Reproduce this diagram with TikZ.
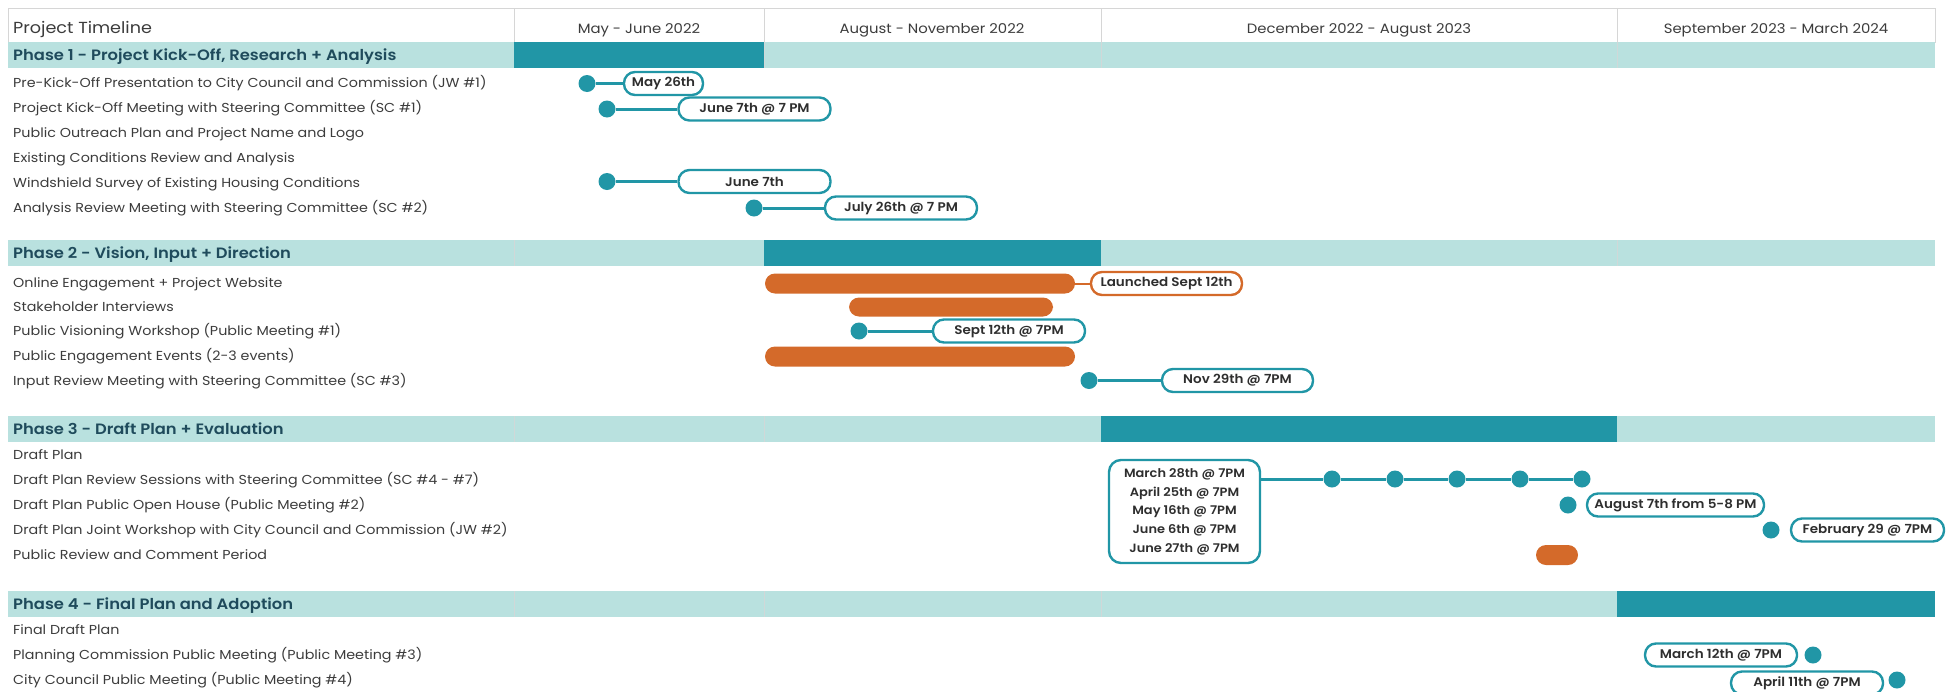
\documentclass[tikz,border=0pt]{standalone}
\usepackage{fontspec}
\setmainfont{Poppins}[FakeStretch=1.1]
\newfontfamily\phasefont{Poppins SemiBold}[FakeStretch=1.09]
\newfontfamily\pillfont{Poppins SemiBold}[FakeStretch=1.08]
\usetikzlibrary{positioning}
\definecolor{tealdark}{HTML}{2196A6}
\definecolor{teallight}{HTML}{B9E1DF}
\definecolor{orangebar}{HTML}{D46A2A}
\definecolor{phaseink}{HTML}{1F4B5C}
\definecolor{itemink}{HTML}{3C3C3C}
\definecolor{gridline}{HTML}{D6D6D6}

\begin{document}
\begin{tikzpicture}[x=1pt,y=-1pt,
    item/.style={anchor=base west,inner sep=0pt,text=itemink,font=\fontsize{13}{13}\selectfont},
    phase/.style={anchor=base west,inner sep=0pt,text=phaseink,font=\phasefont\fontsize{15}{15}\selectfont},
    colhead/.style={anchor=base,inner sep=0pt,text=itemink,font=\fontsize{13.5}{14}\selectfont},
    pill/.style={draw=tealdark,line width=2.4pt,fill=white,rounded corners=11pt,minimum height=23pt,
        minimum width=152pt,inner xsep=0pt,text=black!82,font=\pillfont\fontsize{12.5}{12.5}\selectfont},
    dot/.style={circle,fill=tealdark,minimum size=17pt,inner sep=0pt},
    stem/.style={draw=tealdark,line width=3pt},
    bar/.style={fill=orangebar,rounded corners=10pt,minimum height=20pt,inner sep=0pt}]
    \useasboundingbox (0,0) rectangle (1950,691);
    % header row
    \draw[gridline,line width=0.8pt] (8,8) rectangle (1935,42);
    \draw[gridline,line width=0.8pt] (514,8) -- (514,42) (764,8) -- (764,42) (1101,8) -- (1101,42) (1617,8) -- (1617,42);
    \node[colhead,anchor=base west,font=\fontsize{16}{16}\selectfont] (title) at (13,33) {Project Timeline};
    \node[colhead] (col1) at (639,33) {May - June 2022};
    \node[colhead] (col2) at (932,33) {August - November 2022};
    \node[colhead] (col3) at (1359,33) {December 2022 - August 2023};
    \node[colhead] (col4) at (1776,33) {September 2023 - March 2024};
    % phase bands
    \fill[teallight] (8,42) rectangle (1935,68);
    \fill[teallight] (8,240) rectangle (1935,266);
    \fill[teallight] (8,416) rectangle (1935,442);
    \fill[teallight] (8,591) rectangle (1935,617);
    \fill[tealdark] (514,42) rectangle (764,68);
    \fill[tealdark] (764,240) rectangle (1101,266);
    \fill[tealdark] (1101,416) rectangle (1617,442);
    \fill[tealdark] (1617,591) rectangle (1935,617);
    \draw[gridline!80!teallight,line width=0.8pt] (764,42) -- (764,68) (1101,42) -- (1101,68) (1617,42) -- (1617,68)
        (514,240) -- (514,266) (1617,240) -- (1617,266)
        (514,416) -- (514,442) (764,416) -- (764,442)
        (514,591) -- (514,617) (764,591) -- (764,617) (1101,591) -- (1101,617);

    % phase 1
    \node[phase] (ph1) at (13,60) {Phase 1 - Project Kick-Off, Research + Analysis};
    \node[item] (a1) at (13,87.5) {Pre-Kick-Off Presentation to City Council and Commission (JW \#1)};
    \node[item] (a2) at (13,112.5) {Project Kick-Off Meeting with Steering Committee (SC \#1)};
    \node[item] (a3) at (13,137) {Public Outreach Plan and Project Name and Logo};
    \node[item] (a4) at (13,162) {Existing Conditions Review and Analysis};
    \node[item] (a5) at (13,187) {Windshield Survey of Existing Housing Conditions};
    \node[item] (a6) at (13,212) {Analysis Review Meeting with Steering Committee (SC \#2)};
    \node[dot] (d1) at (587,83.5) {};
    \node[pill,minimum width=79pt] (p1) at (663.5,83.5) {May 26th};
    \node[dot] (d2) at (607,109) {};
    \node[pill] (p2) at (754.5,109) {June 7th @ 7 PM};
    \node[dot] (d3) at (607,181.5) {};
    \node[pill] (p3) at (754.5,181.5) {June 7th};
    \node[dot] (d4) at (754,208) {};
    \node[pill] (p4) at (901,208) {July 26th @ 7 PM};
    \draw[stem] (d1) -- (p1);
    \draw[stem] (d2) -- (p2);
    \draw[stem] (d3) -- (p3);
    \draw[stem] (d4) -- (p4);

    % phase 2
    \node[phase] (ph2) at (13,258) {Phase 2 - Vision, Input + Direction};
    \node[item] (b1) at (13,287.5) {Online Engagement + Project Website};
    \node[item] (b2) at (13,311) {Stakeholder Interviews};
    \node[item] (b3) at (13,335.5) {Public Visioning Workshop (Public Meeting \#1)};
    \node[item] (b4) at (13,360.5) {Public Engagement Events (2-3 events)};
    \node[item] (b5) at (13,385) {Input Review Meeting with Steering Committee (SC \#3)};
    \node[bar,minimum width=310pt] (online) at (920,283.5) {};
    \node[pill,draw=orangebar,minimum width=151pt] (p5) at (1166.5,283.5) {Launched Sept 12th};
    \draw[orangebar,line width=2pt] (online) -- (p5);
    \node[bar,minimum width=204pt,minimum height=19pt] (interviews) at (951,307) {};
    \node[dot] (d6) at (859,331) {};
    \node[pill] (p6) at (1009,331) {Sept 12th @ 7PM};
    \draw[stem] (d6) -- (p6);
    \node[bar,minimum width=310pt] (events) at (920,356.5) {};
    \node[dot] (d7) at (1089,380.5) {};
    \node[pill,minimum width=151pt] (p7) at (1237.5,380.5) {Nov 29th @ 7PM};
    \draw[stem] (d7) -- (p7);

    % phase 3
    \node[phase] (ph3) at (13,434) {Phase 3 - Draft Plan + Evaluation};
    \node[item] (c1) at (13,459.5) {Draft Plan};
    \node[item] (c2) at (13,484) {Draft Plan Review Sessions with Steering Committee (SC \#4 - \#7)};
    \node[item] (c3) at (13,509.5) {Draft Plan Public Open House (Public Meeting \#2)};
    \node[item] (c4) at (13,534) {Draft Plan Joint Workshop with City Council and Commission (JW \#2)};
    \node[item] (c5) at (13,559) {Public Review and Comment Period};
    \node[pill,minimum width=151pt,minimum height=103pt,rounded corners=12pt,align=center,
        font=\pillfont\fontsize{12}{18.7}\selectfont] (sessions) at (1184.5,511.5)
        {March 28th @ 7PM\\April 25th @ 7PM\\May 16th @ 7PM\\June 6th @ 7PM\\June 27th @ 7PM};
    \node[dot] (s1) at (1332,479) {};
    \node[dot] (s2) at (1395,479) {};
    \node[dot] (s3) at (1457,479) {};
    \node[dot] (s4) at (1520,479) {};
    \node[dot] (s5) at (1582,479) {};
    \draw[stem] (sessions.east |- s1) -- (s1) -- (s2) -- (s3) -- (s4) -- (s5);
    \node[dot] (d8) at (1568,505) {};
    \node[pill,minimum width=177pt] (p8) at (1675.5,505) {August 7th from 5-8 PM};
    \node[dot] (d9) at (1771,530) {};
    \node[pill,minimum width=153pt] (p9) at (1867.5,530) {February 29 @ 7PM};
    \node[bar,minimum width=42pt] (review) at (1557,555) {};

    % phase 4
    \node[phase] (ph4) at (13,609) {Phase 4 - Final Plan and Adoption};
    \node[item] (e1) at (13,634) {Final Draft Plan};
    \node[item] (e2) at (13,659) {Planning Commission Public Meeting (Public Meeting \#3)};
    \node[item] (e3) at (13,684.5) {City Council Public Meeting (Public Meeting \#4)};
    \node[pill] (p10) at (1721,655) {March 12th @ 7PM};
    \node[dot] (d10) at (1813,655) {};
    \node[pill] (p11) at (1807,683) {April 11th @ 7PM};
    \node[dot] (d11) at (1897,680) {};
\end{tikzpicture}
\end{document}
